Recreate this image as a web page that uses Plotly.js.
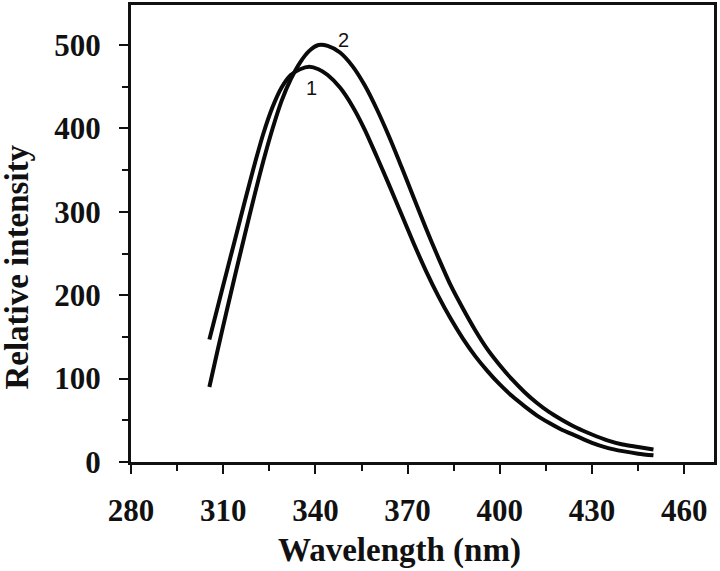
<!DOCTYPE html>
<html>
<head>
<meta charset="utf-8">
<script src="https://cdn.plot.ly/plotly-3.0.1.min.js"></script>
<style>html,body{margin:0;padding:0;background:#fff;}#chart{width:720px;height:571px;}</style>
</head>
<body>
<div id="chart"></div>
<script>
var wavelength = [305.5, 308, 311, 314, 317, 320, 323, 326, 329, 332, 335, 338, 341, 344, 348, 352, 356, 360, 364, 368, 372, 376, 380, 384, 388, 392, 396, 400, 404, 408, 412, 416, 420, 425, 430, 435, 440, 445, 450];
var intensity1 = [147, 183, 226, 269, 312, 354, 393, 425, 449, 464, 471, 474, 471, 464, 449, 427, 399, 366, 332, 297, 262, 229, 199, 172, 148, 127, 109, 93, 79, 67, 56, 47, 39, 31, 23, 17, 13, 10, 8];
var intensity2 = [90, 131, 179, 226, 272, 317, 360, 399, 433, 459, 479, 493, 500, 499, 491, 475, 452, 423, 390, 354, 317, 280, 245, 212, 184, 158, 135, 116, 99, 84, 71, 60, 51, 41, 33, 26, 21, 18, 15];
var curveLabels = ["1", "2"];
var labelX = [338.6, 349.3];
var labelY = [448, 506];
var xTickVals = [280, 310, 340, 370, 400, 430, 460];
var yTickVals = [0, 100, 200, 300, 400, 500];
var xTitle = "Wavelength (nm)";
var yTitle = "Relative intensity";

var serif = "Liberation Serif, Times New Roman, serif";
var lineStyle = {color: "#0a0a0a", width: 4, shape: "spline", smoothing: 0.8};

var traces = [
  {x: wavelength, y: intensity1, mode: "lines", line: lineStyle, hoverinfo: "skip"},
  {x: wavelength, y: intensity2, mode: "lines", line: lineStyle, hoverinfo: "skip"}
];

var annotations = [];
for (var i = 0; i < curveLabels.length; i++) {
  annotations.push({x: labelX[i], y: labelY[i], xref: "x", yref: "y", text: curveLabels[i], showarrow: false,
    font: {family: "Liberation Sans, Arial, sans-serif", size: 20, color: "#111"}, xanchor: "center", yanchor: "middle"});
}
annotations.push({x: 0.461, y: -0.193, xref: "paper", yref: "paper", text: xTitle, showarrow: false,
  font: {family: serif, size: 33, color: "#111", weight: "bold"}, xanchor: "center", yanchor: "middle"});
annotations.push({x: -0.196, y: 0.427, xref: "paper", yref: "paper", text: yTitle, showarrow: false, textangle: -90,
  font: {family: serif, size: 33, color: "#111", weight: "bold"}, xanchor: "center", yanchor: "middle"});

var layout = {
  width: 720, height: 571,
  margin: {l: 131, r: 6, t: 5, b: 109},
  paper_bgcolor: "#fff", plot_bgcolor: "#fff",
  showlegend: false,
  xaxis: {
    range: [280, 469.7], tickvals: xTickVals, ticks: "outside", ticklen: 9, tickwidth: 2, tickcolor: "#111",
    showline: true, linewidth: 3, linecolor: "#111", mirror: true, showgrid: false, zeroline: false,
    tickfont: {family: serif, size: 31, color: "#111", weight: "bold"}, ticklabelstandoff: 10,
    minor: {dtick: 15, tick0: 280, ticks: "outside", ticklen: 6, tickwidth: 2, tickcolor: "#111", showgrid: false}
  },
  yaxis: {
    range: [0, 548], tickvals: yTickVals, ticks: "outside", ticklen: 9, tickwidth: 2, tickcolor: "#111",
    showline: true, linewidth: 3, linecolor: "#111", mirror: true, showgrid: false, zeroline: false,
    tickfont: {family: serif, size: 31, color: "#111", weight: "bold"}, ticklabelstandoff: 12,
    minor: {dtick: 50, tick0: 0, ticks: "outside", ticklen: 6, tickwidth: 2, tickcolor: "#111", showgrid: false}
  },
  annotations: annotations
};

Plotly.newPlot("chart", traces, layout, {staticPlot: true, displayModeBar: false});
</script>
</body>
</html>
